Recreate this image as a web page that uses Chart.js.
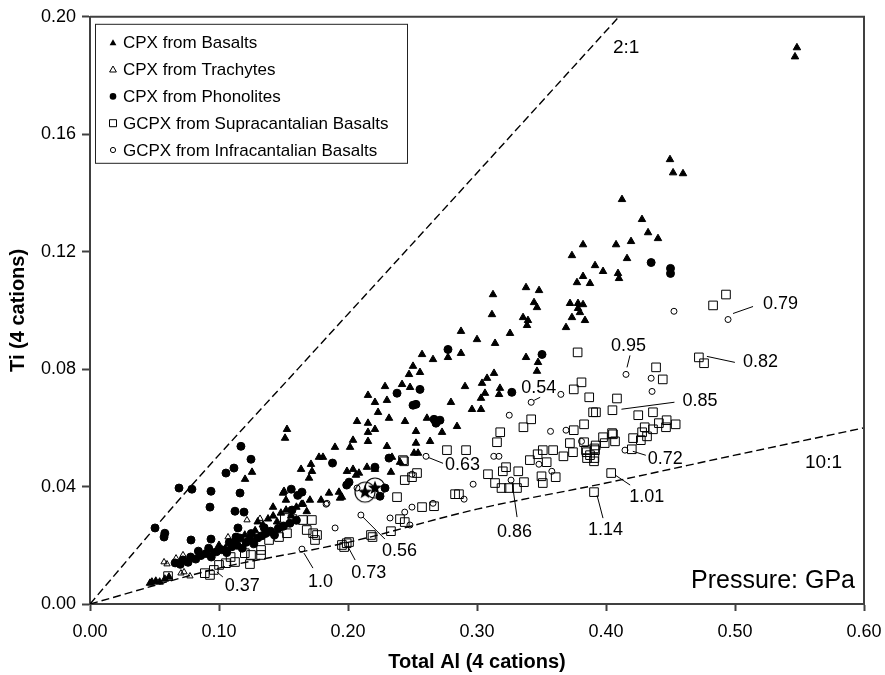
<!DOCTYPE html>
<html>
<head>
<meta charset="utf-8">
<title>Ti vs Total Al (4 cations)</title>
<script src="https://cdn.jsdelivr.net/npm/chart.js@4.4.1/dist/chart.umd.min.js"></script>
<style>
  html, body { margin: 0; padding: 0; background: #fff; }
  canvas { display: block; }
</style>
</head>
<body>
<canvas id="chart" width="885" height="675"></canvas>
<script>
const FONT = '"Liberation Sans", Arial, Helvetica, sans-serif';
const INK = '#000';
const FRAME = '#404040';

// axis ticks
const xTickValues = [0, 0.1, 0.2, 0.3, 0.4, 0.5, 0.6];
const yTickValues = [0, 0.04, 0.08, 0.12, 0.16, 0.2];

// [Total Al, Ti] pairs per group
const cpxBasalts = [
    [0.548, 0.1895], [0.5465, 0.1864], [0.4496, 0.1514], [0.452, 0.1469], [0.4597, 0.1466],
    [0.4124, 0.1378], [0.4279, 0.131], [0.4326, 0.1265], [0.4403, 0.1245], [0.4194, 0.1235],
    [0.4078, 0.1224], [0.3822, 0.1224], [0.3736, 0.1187], [0.4163, 0.1177], [0.3915, 0.1153],
    [0.3977, 0.1133], [0.4093, 0.1126], [0.4101, 0.1109], [0.3822, 0.1116], [0.3775, 0.1095],
    [0.3876, 0.1092], [0.338, 0.1078], [0.3481, 0.1068], [0.3124, 0.1054], [0.3442, 0.1027],
    [0.3465, 0.101], [0.3721, 0.1024], [0.3783, 0.1024], [0.3822, 0.102], [0.3783, 0.1007],
    [0.3798, 0.0993], [0.3736, 0.0976], [0.3837, 0.0966], [0.369, 0.0942], [0.3116, 0.0986],
    [0.3357, 0.0976], [0.3395, 0.0966], [0.3388, 0.0949], [0.2876, 0.0929], [0.30, 0.0901],
    [0.3256, 0.0922], [0.314, 0.0888], [0.2876, 0.0854], [0.338, 0.084], [0.3473, 0.0823],
    [0.3465, 0.0793], [0.3132, 0.0786], [0.3078, 0.0769], [0.2574, 0.085], [0.2659, 0.0833],
    [0.2775, 0.084], [0.2504, 0.081], [0.2473, 0.0782], [0.2558, 0.0789], [0.3039, 0.0752],
    [0.3178, 0.0735], [0.3171, 0.0714], [0.3062, 0.0718], [0.3031, 0.0701], [0.2907, 0.0741],
    [0.2798, 0.0687], [0.2961, 0.0663], [0.3031, 0.0663], [0.2845, 0.0605], [0.2287, 0.0741],
    [0.2419, 0.0748], [0.2481, 0.0738], [0.2155, 0.0711], [0.2209, 0.0687], [0.2302, 0.0694],
    [0.2233, 0.0653], [0.207, 0.0622], [0.2155, 0.0616], [0.2155, 0.0585], [0.2209, 0.0595],
    [0.2318, 0.0633], [0.2442, 0.0622], [0.2612, 0.0633], [0.2527, 0.0588], [0.2729, 0.0585],
    [0.2636, 0.0554], [0.2527, 0.0548], [0.2302, 0.0537], [0.2512, 0.0514], [0.2543, 0.0514],
    [0.2341, 0.05], [0.2039, 0.0558], [0.2016, 0.0534], [0.1899, 0.0534], [0.2155, 0.0554],
    [0.1775, 0.05], [0.1806, 0.05], [0.1527, 0.0595], [0.1512, 0.0565], [0.1636, 0.0459],
    [0.1713, 0.0476], [0.1721, 0.0452], [0.1698, 0.0429], [0.2085, 0.0446], [0.2147, 0.0466],
    [0.2209, 0.0459], [0.2333, 0.0449], [0.2403, 0.0483], [0.193, 0.0381], [0.1938, 0.0361],
    [0.1853, 0.0378], [0.1791, 0.0354], [0.1705, 0.0354], [0.1651, 0.034], [0.1504, 0.0384],
    [0.1519, 0.0354], [0.1419, 0.033], [0.1496, 0.0378], [0.1256, 0.0449], [0.1202, 0.0425],
    [0.1992, 0.0452], [0.2039, 0.0459], [0.2062, 0.0439], [0.1953, 0.0364],
    [0.112, 0.0215], [0.120, 0.0235], [0.128, 0.025], [0.134, 0.027], [0.138, 0.029],
    [0.142, 0.03], [0.145, 0.028], [0.148, 0.031], [0.152, 0.032], [0.156, 0.03],
    [0.160, 0.033], [0.164, 0.034], [0.168, 0.0315], [0.100, 0.02], [0.105, 0.019],
    [0.095, 0.0175], [0.130, 0.028],
    [0.0465, 0.0071], [0.048, 0.0075], [0.051, 0.0078], [0.054, 0.0075], [0.058, 0.0085],
    [0.0612, 0.0092]
];

const cpxTrachytes = [
    [0.1217, 0.0286], [0.1318, 0.0291], [0.107, 0.0228], [0.0574, 0.0143], [0.0597, 0.0136],
    [0.0667, 0.0156], [0.0721, 0.0167], [0.0705, 0.0105], [0.0729, 0.0109], [0.0775, 0.0095]
];

const cpxPhonolites = [
    [0.117, 0.0537], [0.1248, 0.0493], [0.1116, 0.0463], [0.1054, 0.0446], [0.069, 0.0395],
    [0.079, 0.0391], [0.0938, 0.0384], [0.1163, 0.0378], [0.093, 0.033], [0.1124, 0.0316],
    [0.1194, 0.0313], [0.0504, 0.0259], [0.058, 0.0241], [0.0574, 0.0228], [0.0783, 0.0218],
    [0.0938, 0.0221], [0.1147, 0.0259], [0.1132, 0.0228],
    [0.072, 0.015], [0.078, 0.016], [0.082, 0.0153], [0.086, 0.0165], [0.090, 0.0172],
    [0.094, 0.016], [0.098, 0.0178], [0.102, 0.0185], [0.106, 0.0175], [0.110, 0.0195],
    [0.114, 0.02], [0.118, 0.019], [0.121, 0.021], [0.124, 0.0218], [0.127, 0.0205],
    [0.130, 0.0225], [0.133, 0.0232], [0.136, 0.024], [0.140, 0.0248], [0.143, 0.0235],
    [0.146, 0.0258], [0.150, 0.0265], [0.155, 0.0275], [0.160, 0.0285], [0.066, 0.014],
    [0.070, 0.0135], [0.076, 0.0142], [0.084, 0.018], [0.092, 0.019], [0.108, 0.021],
    [0.116, 0.0225], [0.125, 0.024], [0.135, 0.026],
    [0.435, 0.1163], [0.450, 0.1143], [0.450, 0.1126], [0.3504, 0.085], [0.327, 0.0721],
    [0.238, 0.0718], [0.2558, 0.0731], [0.2504, 0.0677], [0.2527, 0.068], [0.2667, 0.0629],
    [0.2713, 0.0626], [0.2682, 0.0616], [0.2775, 0.0867], [0.156, 0.0391], [0.1566, 0.032],
    [0.161, 0.037], [0.1643, 0.0381], [0.188, 0.048], [0.2008, 0.0415], [0.199, 0.0405],
    [0.2318, 0.0497], [0.2209, 0.0466], [0.2287, 0.0395], [0.2248, 0.0367]
];

const gcpxSupracantalian = [
    [0.493, 0.1054], [0.483, 0.1017], [0.472, 0.084], [0.476, 0.082], [0.4388, 0.0806],
    [0.444, 0.0765], [0.378, 0.0857], [0.375, 0.0731], [0.381, 0.0755], [0.387, 0.0704],
    [0.4085, 0.070], [0.405, 0.066], [0.390, 0.0653], [0.3922, 0.0653], [0.425, 0.0643],
    [0.4364, 0.0653], [0.375, 0.0592], [0.383, 0.0612],
    [0.447, 0.0626], [0.454, 0.0612], [0.441, 0.0616], [0.4465, 0.0602], [0.4364, 0.0595],
    [0.430, 0.0602], [0.428, 0.0585], [0.4318, 0.0571], [0.421, 0.0565], [0.427, 0.0558],
    [0.4047, 0.0582], [0.3977, 0.0568], [0.407, 0.0554], [0.399, 0.0548], [0.372, 0.0548],
    [0.420, 0.0527], [0.385, 0.0517], [0.391, 0.053], [0.391, 0.0497],
    [0.404, 0.0446], [0.3907, 0.0381],
    [0.3085, 0.0442], [0.314, 0.0412], [0.319, 0.0395], [0.3248, 0.0395], [0.331, 0.0395],
    [0.3364, 0.0415], [0.332, 0.0452], [0.320, 0.0452], [0.3225, 0.0466],
    [0.350, 0.0435], [0.351, 0.0412], [0.361, 0.0432],
    [0.341, 0.049], [0.347, 0.051], [0.351, 0.0524], [0.354, 0.0483], [0.359, 0.0524],
    [0.342, 0.0629], [0.336, 0.0602], [0.318, 0.0585], [0.3155, 0.0551],
    [0.367, 0.0503], [0.3744, 0.0517], [0.3845, 0.0524], [0.3876, 0.0507], [0.3915, 0.0524],
    [0.3853, 0.0497], [0.3907, 0.0486], [0.383, 0.0551], [0.4054, 0.0578], [0.392, 0.054],
    [0.2767, 0.0524], [0.2915, 0.0524], [0.286, 0.0374],
    [0.2434, 0.0486], [0.2535, 0.0446], [0.2496, 0.0432], [0.244, 0.0422], [0.238, 0.0364],
    [0.283, 0.0374], [0.2426, 0.049],
    [0.2574, 0.033], [0.2667, 0.0333], [0.2403, 0.0289], [0.244, 0.0279], [0.2333, 0.0248],
    [0.2178, 0.0235], [0.219, 0.0228],
    [0.2008, 0.0211], [0.199, 0.0207], [0.197, 0.0194], [0.1953, 0.0201],
    [0.173, 0.0241], [0.176, 0.0235], [0.1744, 0.0218], [0.168, 0.0252], [0.165, 0.0286],
    [0.172, 0.0286], [0.157, 0.0289], [0.1527, 0.0241], [0.151, 0.0293], [0.1465, 0.0228],
    [0.1388, 0.0218],
    [0.0605, 0.0095], [0.089, 0.0105], [0.093, 0.0099], [0.096, 0.0116], [0.100, 0.0133],
    [0.1054, 0.0139], [0.1124, 0.0143], [0.120, 0.0173], [0.1248, 0.0167], [0.124, 0.0136],
    [0.1326, 0.0184], [0.1326, 0.0167], [0.109, 0.016]
];

const gcpxInfracantalian = [
    [0.4527, 0.0997], [0.4946, 0.0969], [0.4155, 0.0782], [0.435, 0.0769], [0.4357, 0.0724],
    [0.365, 0.0714], [0.342, 0.0687], [0.325, 0.0643], [0.357, 0.0588], [0.369, 0.0592],
    [0.381, 0.0554], [0.4147, 0.0524], [0.3264, 0.0422], [0.297, 0.0408], [0.358, 0.0452],
    [0.348, 0.0476], [0.313, 0.0503], [0.317, 0.0503], [0.2605, 0.0503], [0.290, 0.0357],
    [0.2496, 0.0442], [0.244, 0.0313], [0.2326, 0.0293], [0.2496, 0.033], [0.2659, 0.0343],
    [0.248, 0.0269], [0.210, 0.0303], [0.1643, 0.0187], [0.190, 0.0259], [0.183, 0.034],
    [0.207, 0.0395], [0.1837, 0.0343]
];

// highlighted samples (star in ring)
const starSamples = [[0.2132, 0.0381], [0.2209, 0.0395]];

// Al:Ti reference trends as drawn on the diagram
const line2to1 = [[0, 0], [0.078, 0.04], [0.161, 0.08], [0.279, 0.1367], [0.41, 0.2]];
const line10to1 = [[0, 0], [0.1, 0.0122], [0.2, 0.021], [0.3, 0.0323], [0.4, 0.0412], [0.5, 0.0507], [0.6, 0.06]];
const ratioLabels = [['2:1', 0.4054, 0.1895], ['10:1', 0.5543, 0.048]];

// crystallisation pressure (GPa) for selected grains: [text, Al, Ti]
const pressureNotes = [
    ['0.79', 0.4946, 0.0969], ['0.82', 0.472, 0.084], ['0.95', 0.4155, 0.0782],
    ['0.85', 0.405, 0.066], ['0.54', 0.342, 0.0687], ['0.63', 0.2605, 0.0503],
    ['0.72', 0.420, 0.0527], ['1.01', 0.404, 0.0446], ['1.14', 0.3907, 0.0381],
    ['0.86', 0.3264, 0.0422], ['0.56', 0.210, 0.0303], ['0.73', 0.197, 0.0194],
    ['1.0', 0.1643, 0.0187], ['0.37', 0.096, 0.0116]
];
// leader line start/end and text anchor, px offsets from the grain
const noteLayout = [
    [5, -6, 25, -13, 35, -15], [8, -1, 36, 5, 44, 5], [4, -19, 1, -7, -15, -28],
    [9, -1, 62, -8, 70, -9], [3, -2, 9, -5, -10, -14], [2, 1, 17, 7, 19, 9],
    [1, 2, 14, 6, 16, 10], [4, 2, 19, 12, 18, 24], [3, 3, 9, 26, -6, 38],
    [1, 2, 6, 37, -14, 52], [2, 2, 24, 24, 21, 36], [4, 0, 11, 13, 7, 26],
    [2, 4, 11, 19, 6, 33], [3, 2, 9, 7, 11, 16]
];

const toXY = pts => pts.map(([x, y]) => ({ x, y }));

// ring with filled star, used as a point style
function makeStarMarker() {
    const c = document.createElement('canvas');
    c.width = 24; c.height = 24;
    const g = c.getContext('2d');
    g.strokeStyle = INK;
    g.lineWidth = 1.2;
    g.beginPath();
    g.arc(12, 12, 10, 0, Math.PI * 2);
    g.stroke();
    g.fillStyle = INK;
    g.beginPath();
    for (let i = 0; i < 10; i++) {
        const r = i % 2 === 0 ? 7.5 : 3.2;
        const a = -Math.PI / 2 + i * Math.PI / 5;
        g.lineTo(12 + r * Math.cos(a), 12 + r * Math.sin(a));
    }
    g.closePath();
    g.fill();
    return c;
}

const legendItems = [
    { text: 'CPX from Basalts', shape: 'triangle', filled: true },
    { text: 'CPX from Trachytes', shape: 'triangle', filled: false },
    { text: 'CPX from Phonolites', shape: 'circle', filled: true },
    { text: 'GCPX from Supracantalian Basalts', shape: 'square', filled: false },
    { text: 'GCPX from Infracantalian Basalts', shape: 'circle', filled: false, small: true }
];

function drawMarker(ctx, shape, filled, x, y, small) {
    ctx.beginPath();
    if (shape === 'triangle') {
        ctx.moveTo(x, y - 3.6);
        ctx.lineTo(x + 3.4, y + 2.4);
        ctx.lineTo(x - 3.4, y + 2.4);
        ctx.closePath();
    } else if (shape === 'circle') {
        ctx.arc(x, y, small ? 2.6 : 3.3, 0, Math.PI * 2);
    } else {
        ctx.rect(x - 3.5, y - 3.5, 7, 7);
    }
    if (filled) ctx.fill(); else ctx.stroke();
}

const overlay = {
    id: 'overlay',
    afterDatasetsDraw(chart) {
        const { ctx, chartArea: a, scales: { x, y } } = chart;
        ctx.save();

        // top and right edges of the frame
        ctx.strokeStyle = FRAME;
        ctx.lineWidth = 2;
        ctx.beginPath();
        ctx.moveTo(a.left, a.top);
        ctx.lineTo(a.right, a.top);
        ctx.lineTo(a.right, a.bottom);
        ctx.stroke();

        ctx.fillStyle = INK;
        ctx.strokeStyle = INK;
        ctx.textBaseline = 'middle';

        // ratio line names
        ctx.font = '19px ' + FONT;
        ctx.textAlign = 'left';
        ratioLabels.forEach(([t, vx, vy]) => ctx.fillText(t, x.getPixelForValue(vx), y.getPixelForValue(vy)));

        // pressure notes with leader lines
        ctx.font = '18px ' + FONT;
        ctx.lineWidth = 1;
        pressureNotes.forEach(([t, vx, vy], i) => {
            const px = x.getPixelForValue(vx);
            const py = y.getPixelForValue(vy);
            const [sx, sy, ex, ey, tx, ty] = noteLayout[i];
            ctx.beginPath();
            ctx.moveTo(px + sx, py + sy);
            ctx.lineTo(px + ex, py + ey);
            ctx.stroke();
            ctx.fillText(t, px + tx, py + ty);
        });

        ctx.font = '25px ' + FONT;
        ctx.textAlign = 'right';
        ctx.fillText('Pressure: GPa', a.right - 9, a.bottom - 23);

        // legend box
        const lx = a.left + 5, ly = a.top + 7, lw = 312, lh = 139;
        ctx.lineWidth = 1;
        ctx.strokeStyle = '#222';
        ctx.strokeRect(lx + 0.5, ly + 0.5, lw, lh);
        ctx.strokeStyle = INK;
        ctx.font = '17px ' + FONT;
        ctx.textAlign = 'left';
        legendItems.forEach((item, i) => {
            const iy = ly + 19 + i * 26.8;
            drawMarker(ctx, item.shape, item.filled, lx + 18, iy, item.small);
            ctx.fillText(item.text, lx + 28, iy + 1);
        });

        ctx.restore();
    }
};

const dashed = pts => ({
    data: toXY(pts),
    showLine: true,
    cubicInterpolationMode: 'monotone',
    pointRadius: 0,
    borderColor: INK,
    borderWidth: 1.4,
    borderDash: [8, 4],
    fill: false
});

new Chart(document.getElementById('chart'), {
    type: 'scatter',
    data: {
        datasets: [
            {
                label: 'Reference samples',
                data: toXY(starSamples),
                pointStyle: makeStarMarker(),
                pointRadius: 12
            },
            {
                label: 'CPX from Basalts',
                data: toXY(cpxBasalts),
                pointStyle: 'triangle',
                pointRadius: 4.3,
                backgroundColor: INK,
                borderColor: INK,
                borderWidth: 1
            },
            {
                label: 'CPX from Trachytes',
                data: toXY(cpxTrachytes),
                pointStyle: 'triangle',
                pointRadius: 3.6,
                backgroundColor: 'rgba(0,0,0,0)',
                borderColor: INK,
                borderWidth: 1
            },
            {
                label: 'CPX from Phonolites',
                data: toXY(cpxPhonolites),
                pointStyle: 'circle',
                pointRadius: 4,
                backgroundColor: INK,
                borderColor: INK,
                borderWidth: 1
            },
            {
                label: 'GCPX from Supracantalian Basalts',
                data: toXY(gcpxSupracantalian),
                pointStyle: 'rect',
                pointRadius: 6.1,
                backgroundColor: 'rgba(0,0,0,0)',
                borderColor: INK,
                borderWidth: 1
            },
            {
                label: 'GCPX from Infracantalian Basalts',
                data: toXY(gcpxInfracantalian),
                pointStyle: 'circle',
                pointRadius: 3,
                backgroundColor: 'rgba(0,0,0,0)',
                borderColor: INK,
                borderWidth: 1
            },
            Object.assign({ label: '2:1' }, dashed(line2to1)),
            Object.assign({ label: '10:1' }, dashed(line10to1))
        ]
    },
    options: {
        responsive: false,
        animation: false,
        devicePixelRatio: 1,
        layout: { padding: { left: 0, right: 21, top: 16, bottom: 0 } },
        plugins: {
            legend: { display: false },
            tooltip: { enabled: false }
        },
        scales: {
            x: {
                type: 'linear',
                min: 0,
                max: 0.6,
                afterBuildTicks: s => { s.ticks = xTickValues.map(v => ({ value: v })); },
                afterFit: s => { s.height = 71; },
                ticks: {
                    color: INK,
                    // tall line box pushes the labels down without widening the side padding
                    font: { family: FONT, size: 18, lineHeight: 2 },
                    padding: 3,
                    maxRotation: 0,
                    callback: v => v.toFixed(2)
                },
                grid: { drawOnChartArea: false, drawTicks: true, tickLength: 7, tickColor: FRAME, tickWidth: 2 },
                border: { display: true, color: FRAME, width: 2 },
                title: {
                    display: true,
                    text: 'Total Al (4 cations)',
                    color: INK,
                    font: { family: FONT, size: 20, weight: 'bold' },
                    padding: { top: 0, bottom: 1 }
                }
            },
            y: {
                type: 'linear',
                min: 0,
                max: 0.2,
                afterBuildTicks: s => { s.ticks = yTickValues.map(v => ({ value: v })); },
                afterFit: s => { s.width = 90; },
                ticks: {
                    color: INK,
                    font: { family: FONT, size: 18 },
                    padding: 6,
                    callback: v => v.toFixed(2)
                },
                grid: { drawOnChartArea: false, drawTicks: true, tickLength: 8, tickColor: FRAME, tickWidth: 2 },
                border: { display: true, color: FRAME, width: 2 },
                title: {
                    display: true,
                    text: 'Ti (4 cations)',
                    color: INK,
                    font: { family: FONT, size: 20, weight: 'bold' },
                    padding: { top: 6, bottom: 0 }
                }
            }
        }
    },
    plugins: [overlay]
});
</script>
</body>
</html>
